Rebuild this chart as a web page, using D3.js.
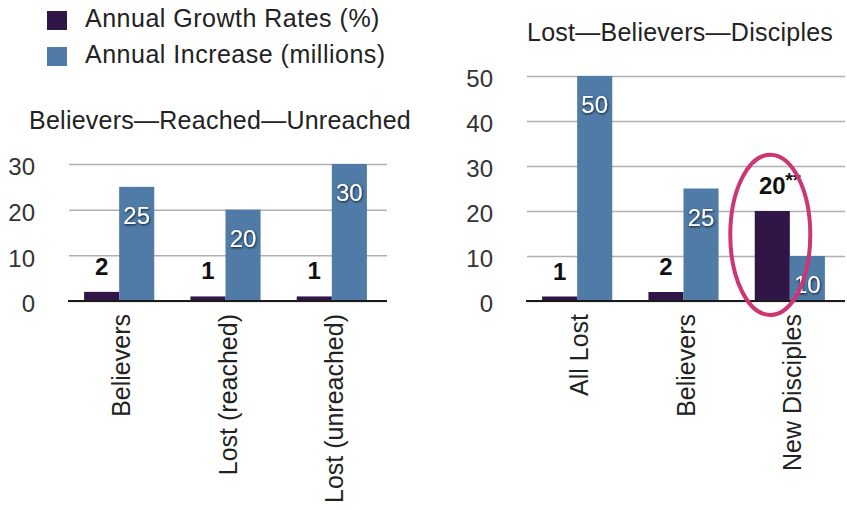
<!DOCTYPE html>
<html>
<head>
<meta charset="utf-8">
<script src="https://cdn.jsdelivr.net/npm/d3@7"></script>
<style>
  html, body { margin: 0; padding: 0; background: #fff; }
  svg { display: block; font-family: "Liberation Sans", Arial, Helvetica, sans-serif; }
</style>
</head>
<body>
<div id="chart"></div>
<script>
// Plot constants
const WIDTH = 847;
const HEIGHT = 510;

// Data
const seriesKeys = ["growth", "increase"];
const seriesLabels = ["Annual Growth Rates (%)", "Annual Increase (millions)"];
const seriesColors = ["#2f1646", "#4f7ba6"];

const leftTitle = "Believers\u2014Reached\u2014Unreached";
const leftCategories = ["Believers", "Lost (reached)", "Lost (unreached)"];
const leftGrowth = [2, 1, 1];
const leftIncrease = [25, 20, 30];
const leftTicks = [0, 10, 20, 30];

const rightTitle = "Lost\u2014Believers\u2014Disciples";
const rightCategories = ["All Lost", "Believers", "New Disciples"];
const rightGrowth = [1, 2, 20];
const rightIncrease = [50, 25, 10];
const rightTicks = [0, 10, 20, 30, 40, 50];
const rightNotes = ["", "", "**"];

const svg = d3.select("#chart")
  .append("svg")
  .attr("width", WIDTH)
  .attr("height", HEIGHT);

// Soft dark shadow behind the white labels
const shadow = svg.append("defs").append("filter")
  .attr("id", "shadow")
  .attr("x", "-30%").attr("y", "-30%")
  .attr("width", "160%").attr("height", "160%");
shadow.append("feDropShadow")
  .attr("dx", 0.6).attr("dy", 1)
  .attr("stdDeviation", 1.2)
  .attr("flood-color", "#0b1626")
  .attr("flood-opacity", 1);

// Legend
const legend = svg.append("g").attr("transform", "translate(47,11)");
seriesLabels.forEach((label, i) => {
  legend.append("rect")
    .attr("x", 0)
    .attr("y", i * 36)
    .attr("width", 20)
    .attr("height", 19)
    .attr("fill", seriesColors[i]);
  legend.append("text")
    .attr("x", 38)
    .attr("y", i * 36 + 16)
    .attr("font-size", "25px")
    .attr("letter-spacing", "0.5px")
    .attr("fill", "#222")
    .text(label);
});

function drawPanel(opts) {
  const g = svg.append("g");
  const rows = opts.categories.map((c, i) => ({
    cat: c, growth: opts.growth[i], increase: opts.increase[i], note: opts.notes ? opts.notes[i] : ""
  }));

  const y = d3.scaleLinear()
    .domain([0, d3.max(opts.ticks)])
    .range([301, opts.top]);

  const x0 = d3.scaleBand()
    .domain(opts.categories)
    .range([opts.left - 3, opts.left + 316])
    .paddingInner(0.34)
    .paddingOuter(0.17);

  const x1 = d3.scaleBand()
    .domain(seriesKeys)
    .range([0, x0.bandwidth()]);

  // Title
  g.append("text")
    .attr("x", opts.titleX)
    .attr("y", opts.titleY)
    .attr("font-size", "25px")
    .attr("letter-spacing", "0.25px")
    .attr("fill", "#222")
    .text(opts.title);

  // Grid + tick labels
  const yAxis = d3.axisLeft(y)
    .tickValues(opts.ticks)
    .tickSize(-318)
    .tickPadding(34)
    .tickFormat(d3.format("d"));

  const axis = g.append("g")
    .attr("transform", `translate(${opts.left},0)`)
    .call(yAxis);
  axis.select(".domain").remove();
  axis.selectAll(".tick line")
    .attr("stroke", "#b0b0b0")
    .attr("stroke-width", 1.5);
  axis.selectAll(".tick text")
    .attr("font-family", "Liberation Sans, Arial, sans-serif")
    .attr("font-size", "24px")
    .attr("fill", "#333")
    .attr("dy", "0.45em");

  // Bars
  const groups = g.selectAll(".group")
    .data(rows)
    .enter()
    .append("g")
    .attr("class", "group")
    .attr("transform", d => `translate(${x0(d.cat)},0)`);

  groups.selectAll("rect")
    .data(d => seriesKeys.map((k, i) => ({ key: k, value: d[k], color: seriesColors[i] })))
    .enter()
    .append("rect")
    .attr("x", d => x1(d.key))
    .attr("y", d => y(d.value))
    .attr("width", x1.bandwidth())
    .attr("height", d => y(0) - y(d.value))
    .attr("fill", d => d.color);

  // Baseline
  g.append("line")
    .attr("x1", opts.left - 1)
    .attr("x2", opts.left + 318)
    .attr("y1", y(0))
    .attr("y2", y(0))
    .attr("stroke", "#1a1a1a")
    .attr("stroke-width", 2);

  // Growth labels (above dark bars)
  groups.append("text")
    .attr("x", x1("growth") + x1.bandwidth() / 2)
    .attr("y", d => y(d.growth) - 17)
    .attr("text-anchor", "middle")
    .attr("font-size", "24px")
    .attr("font-weight", "bold")
    .attr("fill", "#111")
    .text(d => d.growth);

  groups.filter(d => d.note)
    .append("text")
    .attr("x", x1("growth") + x1.bandwidth() / 2 + 13)
    .attr("y", d => y(d.growth) - 24)
    .attr("font-size", "20px")
    .attr("font-weight", "bold")
    .attr("fill", "#111")
    .text(d => d.note);

  // Increase labels (inside top of blue bars)
  groups.append("text")
    .attr("x", x1("increase") + x1.bandwidth() / 2)
    .attr("y", d => y(d.increase) + 37)
    .attr("text-anchor", "middle")
    .attr("font-size", "24px")
    .attr("fill", "#fff")
    .attr("filter", "url(#shadow)")
    .text(d => d.increase);

  // Category labels, rotated
  groups.append("text")
    .attr("transform", `translate(${x0.bandwidth() / 2 + 2},314) rotate(-90)`)
    .attr("text-anchor", "end")
    .attr("dy", "0.36em")
    .attr("font-size", "25px")
    .attr("fill", "#222")
    .text(d => d.cat);

  return { g, x0, x1, y };
}

drawPanel({
  title: leftTitle, titleX: 29, titleY: 129,
  categories: leftCategories, growth: leftGrowth, increase: leftIncrease,
  ticks: leftTicks, left: 69, top: 164
});

const right = drawPanel({
  title: rightTitle, titleX: 527, titleY: 41,
  categories: rightCategories, growth: rightGrowth, increase: rightIncrease, notes: rightNotes,
  ticks: rightTicks, left: 527, top: 76
});

// Highlight ring around the New Disciples growth bar
const ringCat = "New Disciples";
right.g.append("ellipse")
  .attr("cx", right.x0(ringCat) + right.x1("growth") + right.x1.bandwidth() / 2 - 2)
  .attr("cy", right.y(14.7))
  .attr("rx", 40)
  .attr("ry", right.y(0) - right.y(17.8))
  .attr("fill", "none")
  .attr("stroke", "#cc3674")
  .attr("stroke-width", 4);
</script>
</body>
</html>
